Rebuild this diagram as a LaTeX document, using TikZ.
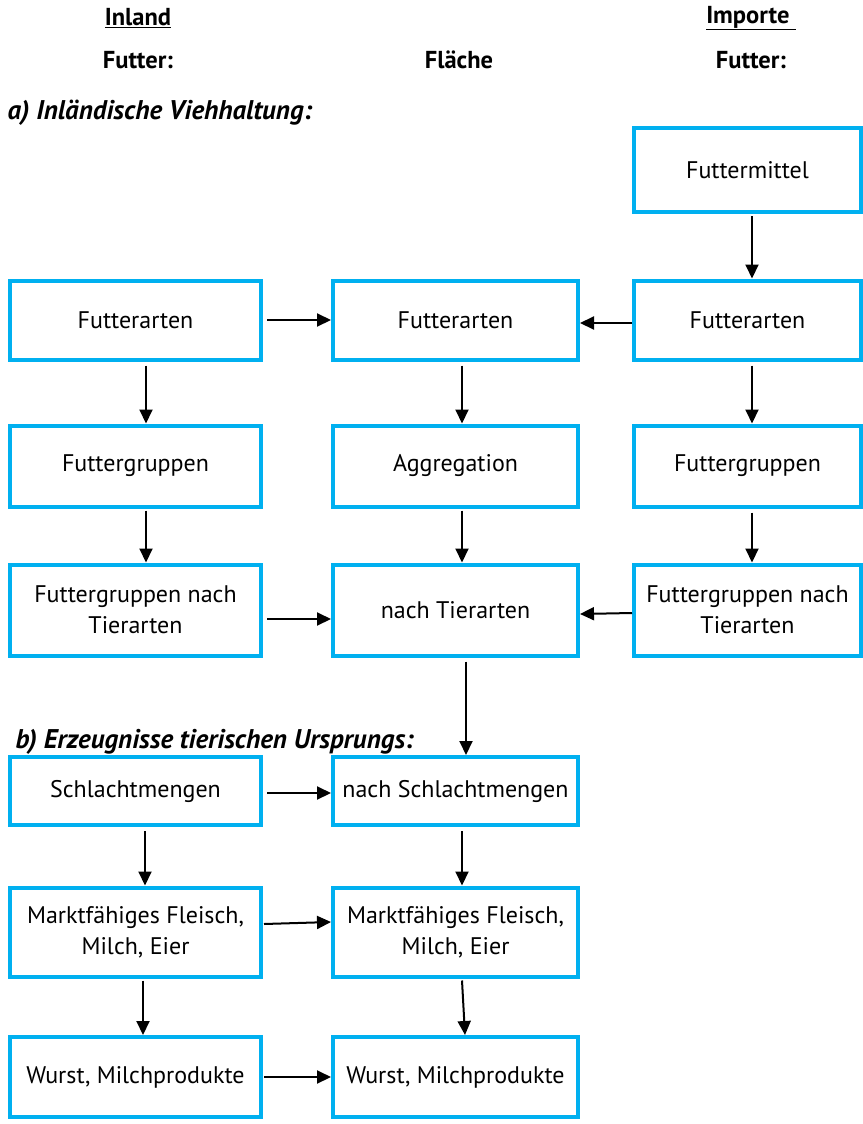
\documentclass[tikz,border=0pt]{standalone}
\usepackage{fontspec}
\setmainfont{PT Sans}
\usetikzlibrary{arrows.meta}
\definecolor{boxblue}{HTML}{00B0F0}
\tikzset{
  box/.style={draw=boxblue, line width=4pt, fill=white, rectangle, align=center, inner sep=2pt, font=\fontsize{24}{31}\selectfont},
  colL/.style={minimum width=251pt},
  colM/.style={minimum width=245pt},
  colR/.style={minimum width=227pt},
  arr/.style={line width=2pt, -{Triangle[length=14pt,width=13pt]}},
  head/.style={font=\fontsize{24.5}{28}\selectfont\bfseries},
  sect/.style={font=\fontsize{27}{30}\selectfont\bfseries\itshape, anchor=west}
}
\begin{document}
\begin{tikzpicture}[x=1pt,y=-1pt]
\useasboundingbox (0,0) rectangle (862,1124);
% headers
\node[head] (hInland) at (138,18) {\underline{Inland}};
\node[head] (hImporte) at (751,18) {\underline{Importe\ }};
\node[head] (hFutL) at (138,60) {Futter:};
\node[head] (hFlaeche) at (459,60) {Fläche};
\node[head] (hFutR) at (751,60) {Futter:};
\node[sect] (secA) at (4,113) {a) Inländische Viehhaltung:};
\node[sect] (secB) at (12,742) {b) Erzeugnisse tierischen Ursprungs:};
% row 0
\node[box,colR,minimum height=84pt] (R0) at (747.5,170) {Futtermittel};
% row 1
\node[box,colL,minimum height=79pt] (L1) at (135.5,320) {Futterarten};
\node[box,colM,minimum height=79pt] (M1) at (455.5,320) {Futterarten};
\node[box,colR,minimum height=79pt] (R1) at (747.5,320) {Futterarten};
% row 2
\node[box,colL,minimum height=81pt] (L2) at (135.5,466) {Futtergruppen};
\node[box,colM,minimum height=81pt] (M2) at (455.5,466) {Aggregation};
\node[box,colR,minimum height=81pt] (R2) at (747.5,466) {Futtergruppen};
% row 3
\node[box,colL,minimum height=91pt] (L3) at (135.5,610) {Futtergruppen nach\\Tierarten};
\node[box,colM,minimum height=91pt] (M3) at (455.5,610) {nach Tierarten};
\node[box,colR,minimum height=91pt] (R3) at (747.5,610) {Futtergruppen nach\\Tierarten};
% row 4
\node[box,colL,minimum height=68pt] (L4) at (135.5,791) {Schlachtmengen};
\node[box,colM,minimum height=68pt] (M4) at (455.5,791) {nach Schlachtmengen};
% row 5
\node[box,colL,minimum height=89pt] (L5) at (135.5,932) {Marktfähiges Fleisch,\\Milch, Eier};
\node[box,colM,minimum height=89pt] (M5) at (455.5,932) {Marktfähiges Fleisch,\\Milch, Eier};
% row 6
\node[box,colL,minimum height=80pt] (L6) at (135.5,1077) {Wurst, Milchprodukte};
\node[box,colM,minimum height=80pt] (M6) at (455.5,1077) {Wurst, Milchprodukte};
% vertical arrows
\draw[arr] ([xshift=4.5pt,yshift=-2pt]R0.south) -- ([xshift=4.5pt]R1.north);
\draw[arr] ([xshift=10.5pt,yshift=-4pt]L1.south) -- ([xshift=10.5pt]L2.north);
\draw[arr] ([xshift=6.5pt,yshift=-4pt]M1.south) -- ([xshift=6.5pt]M2.north);
\draw[arr] ([xshift=4.5pt,yshift=-4pt]R1.south) -- ([xshift=4.5pt]R2.north);
\draw[arr] ([xshift=10.5pt,yshift=-2pt]L2.south) -- ([xshift=10.5pt]L3.north);
\draw[arr] ([xshift=6.5pt,yshift=-2pt]M2.south) -- ([xshift=6.5pt]M3.north);
\draw[arr] ([xshift=4.5pt,yshift=-4pt]R2.south) -- ([xshift=4.5pt]R3.north);
\draw[arr] ([xshift=10.5pt,yshift=-4pt]M3.south) -- ([xshift=10.5pt]M4.north);
\draw[arr] ([xshift=9.5pt,yshift=-4pt]L4.south) -- ([xshift=9.5pt]L5.north);
\draw[arr] ([xshift=6.5pt,yshift=-4pt]M4.south) -- ([xshift=6.5pt]M5.north);
\draw[arr] ([xshift=7.5pt,yshift=-2pt]L5.south) -- ([xshift=7.5pt]L6.north);
\draw[arr] ([xshift=6.5pt,yshift=-2pt]M5.south) -- ([xshift=9.5pt]M6.north);
% horizontal arrows
\draw[arr] ([xshift=4pt]L1.east) -- (M1.west);
\draw[arr] ([yshift=-3pt]R1.west) -- ([yshift=-3pt]M1.east);
\draw[arr] ([xshift=4pt,yshift=-9pt]L3.east) -- ([yshift=-9pt]M3.west);
\draw[arr] ([yshift=-3pt]R3.west) -- ([yshift=-4pt]M3.east);
\draw[arr] ([xshift=4pt,yshift=-2pt]L4.east) -- ([yshift=-2pt]M4.west);
\draw[arr] ([xshift=1pt,yshift=8pt]L5.east) -- ([yshift=10pt]M5.west);
\draw[arr] ([xshift=1pt]L6.east) -- (M6.west);
\end{tikzpicture}
\end{document}
